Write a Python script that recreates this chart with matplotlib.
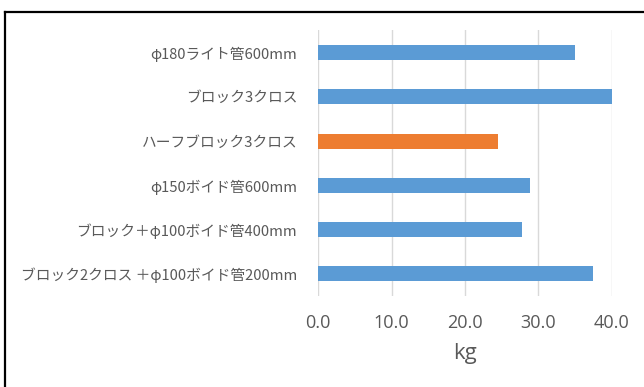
import matplotlib
matplotlib.use("Agg")
import matplotlib.pyplot as plt
from matplotlib.lines import Line2D

plt.rcParams['font.family'] = ['Noto Sans CJK JP', 'DejaVu Sans']

categories = [
    "φ180ライト管600mm",
    "ブロック3クロス",
    "ハーフブロック3クロス",
    "φ150ボイド管600mm",
    "ブロック＋φ100ボイド管400mm",
    "ブロック2クロス ＋φ100ボイド管200mm",
]
values = [35.0, 40.0, 24.5, 28.8, 27.7, 37.4]
highlight = "ハーフブロック3クロス"
x_ticks = [0, 10, 20, 30, 40]
x_label = "kg"

blue = "#5B9BD5"
orange = "#ED7D31"
text_gray = "#595959"
grid_gray = "#D9D9D9"

fig = plt.figure(figsize=(6.44, 3.87), dpi=100)
ax = fig.add_axes([0.4938, 0.2351, 0.4565, 0.6861])

positions = list(range(len(categories)))[::-1]
colors = [orange if c == highlight else blue for c in categories]
ax.barh(positions, values, height=0.34, color=colors, zorder=3)

ax.set_xlim(0, 40)
ax.set_ylim(-0.5, len(categories) - 0.5)
ax.set_xticks(x_ticks)
ax.set_xticklabels([f"{t:.1f}" for t in x_ticks], fontfamily=['Open Sans', 'DejaVu Sans'])
ax.set_yticks(positions)
ax.set_yticklabels(categories)

ax.grid(axis='x', color=grid_gray, linewidth=1.0, zorder=0)
ax.tick_params(axis='x', length=0, pad=13, labelsize=13, labelcolor=text_gray)
ax.tick_params(axis='y', length=0, pad=15, labelsize=10.6, labelcolor=text_gray)
for s in ax.spines.values():
    s.set_visible(False)

ax.set_xlabel(x_label, fontsize=16, color=text_gray, labelpad=8,
              fontfamily=['Open Sans', 'DejaVu Sans'])

# frame lines along the top and left edges of the figure
fig.add_artist(Line2D([5 / 644, 1.0], [1 - 12 / 387, 1 - 12 / 387],
                      transform=fig.transFigure, color="black", linewidth=1.6))
fig.add_artist(Line2D([5 / 644, 5 / 644], [0.0, 1 - 12 / 387],
                      transform=fig.transFigure, color="black", linewidth=1.6))

fig.savefig("out.png", dpi=100, facecolor="white")
